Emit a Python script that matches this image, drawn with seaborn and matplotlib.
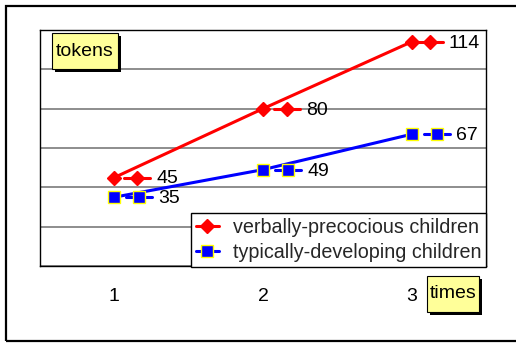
import matplotlib
matplotlib.use("Agg")
import matplotlib.pyplot as plt
import seaborn as sns
import pandas as pd
from matplotlib.patches import Rectangle
from matplotlib.lines import Line2D
from matplotlib.transforms import Affine2D, ScaledTranslation, IdentityTransform

# ---- data ----
times = [1, 2, 3]
verbal = [45, 80, 114]
typical = [35, 49, 67]
series_names = ["verbally-precocious children", "typically-developing children"]
y_title = "tokens"
x_title = "times"

sns.set_theme(style="white")
plt.rcParams['font.family'] = ['Liberation Sans', 'DejaVu Sans']
NARROW = ['Liberation Sans Narrow', 'Liberation Sans', 'DejaVu Sans']

W, H = 516, 343
DPI = 100
fig = plt.figure(figsize=(W / DPI, H / DPI), dpi=DPI)
fig.patch.set_facecolor("white")
ax = fig.add_axes([40 / W, (H - 266) / H, 446 / W, 236 / H])
ax.set_facecolor("white")

df = pd.DataFrame({
    "times": times * 2,
    "tokens": verbal + typical,
    "group": [series_names[0]] * len(times) + [series_names[1]] * len(times),
})

styles = {
    series_names[0]: dict(color="#FF0000", marker="D", ms=7.5, mec="#FF0000", mfc="#FF0000", mew=1),
    series_names[1]: dict(color="#0000FF", marker="s", ms=8.5, mec="#FFFF00", mfc="#0000FF", mew=1),
}

for name in series_names:
    sub = df[df.group == name]
    sns.lineplot(data=sub, x="times", y="tokens", ax=ax, lw=2.2, legend=False, **styles[name])

ax.set_xlim(0.5, 3.5)
ax.set_ylim(0, 120)
ax.set_yticks(range(0, 121, 20))
ax.yaxis.grid(True, color="#7a7a7a", lw=1.2)
ax.xaxis.grid(False)
ax.tick_params(axis="y", left=False, labelleft=False)
ax.set_xticks(times)
ax.set_xticklabels([str(t) for t in times], fontsize=14, color="black", family=NARROW)
ax.tick_params(axis="x", length=0, pad=16)
ax.set_xlabel("")
ax.set_ylabel("")
for s in ax.spines.values():
    s.set_color("black")
    s.set_linewidth(1)

# data labels with legend key (Excel style)
key_offsets = {series_names[0]: [23, 24, 18], series_names[1]: [25, 25, 25]}
for name, vals in zip(series_names, [verbal, typical]):
    st = styles[name]
    for x, v, dx in zip(times, vals, key_offsets[name]):
        tr = Affine2D().scale(1 / DPI) + fig.dpi_scale_trans + ScaledTranslation(x, v, ax.transData)
        ln = Line2D([dx - 13, dx + 13], [0, 0], color=st["color"], lw=2.2, transform=tr, clip_on=False)
        ax.add_artist(ln)
        mk = Line2D([dx], [0], marker=st["marker"], ms=st["ms"], mfc=st["mfc"], mec=st["mec"],
                    mew=st["mew"], ls="none", transform=tr, clip_on=False)
        ax.add_artist(mk)
        ax.annotate(str(v), (x, v), xytext=((dx + 19) * 0.72, -1), textcoords="offset points",
                    va="center", ha="left", fontsize=14, color="black", family=NARROW)

# legend
handles = [Line2D([], [], color=styles[n]["color"], lw=2.2, marker=styles[n]["marker"],
                  ms=styles[n]["ms"], mfc=styles[n]["mfc"], mec=styles[n]["mec"], mew=1)
           for n in series_names]
leg = ax.legend(handles, series_names, loc="lower right", bbox_to_anchor=(1.0, -0.004),
                borderaxespad=0, fontsize=14.2, frameon=True, fancybox=False, framealpha=1,
                edgecolor="black", handlelength=1.15, handletextpad=0.7, borderpad=0.25,
                labelspacing=0.3)
leg.get_frame().set_linewidth(1)


def label_box(x0, y0, x1, y1, text):
    # pixel coords from top-left
    sh = Rectangle((x0 + 3, H - y1 - 3), x1 - x0, y1 - y0, transform=IdentityTransform(),
                   facecolor="black", edgecolor="black", lw=0)
    bx = Rectangle((x0, H - y1), x1 - x0, y1 - y0, transform=IdentityTransform(),
                   facecolor="#FFFF99", edgecolor="black", lw=0.8)
    fig.add_artist(sh)
    fig.add_artist(bx)
    fig.text((x0 + x1) / 2 / W, 1 - (y0 + y1) / 2 / H, text, ha="center", va="center",
             fontsize=14, color="black")


label_box(52, 33, 118, 69, y_title)
label_box(427, 276, 479, 312, x_title)

# outer frame
frame = Rectangle((6, 2), 530, 335, transform=IdentityTransform(), facecolor="none",
                  edgecolor="black", lw=1.6)
fig.add_artist(frame)

fig.savefig("out.png", dpi=DPI)
